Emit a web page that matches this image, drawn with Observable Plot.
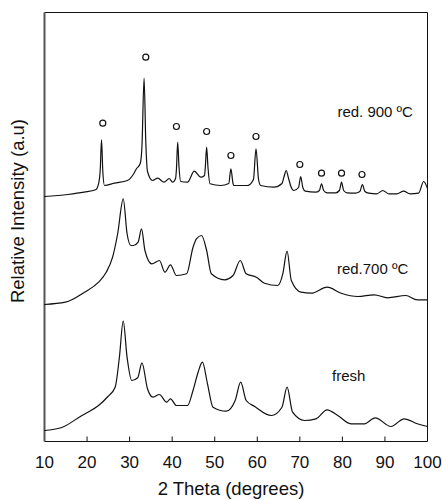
<!DOCTYPE html>
<html>
<head>
<meta charset="utf-8">
<script src="https://cdn.jsdelivr.net/npm/d3@7"></script>
<script src="https://cdn.jsdelivr.net/npm/@observablehq/plot@0.6"></script>
<style>
  html, body { margin: 0; padding: 0; background: #fff; }
  #wrap { position: relative; width: 442px; height: 500px; }
  #ylabel {
    position: absolute; left: 18px; top: 211px;
    transform: translate(-50%, -50%) rotate(-90deg);
    white-space: nowrap; font-family: 'Liberation Sans', Arial, Helvetica, sans-serif;
    font-size: 18.5px; color: #111; line-height: 1;
  }
</style>
</head>
<body>
<div id="wrap"><div id="chart"></div><div id="ylabel"></div></div>
<script>
// 2θ (degrees) vs relative intensity (a.u., traces offset vertically)
const red900 = [
  [10.0,245],[15.5,247],[19.3,249.3],[22.0,251.7],[22.7,257.7],[23.1,272],[23.4,301.7],[23.7,270],[24.1,256],
  [26.4,258.3],[29.5,261],[31.0,268],[31.6,272.7],[32.5,278],[32.9,295],[33.4,363.3],[33.8,300],[34.2,270],
  [35.4,261],[36.6,263.3],[38.1,259.3],[39.3,263],[40.1,259.3],[40.8,263],[41.0,272],[41.3,299.3],[41.6,275],
  [42.0,260],[43.6,259.3],[45.2,270.3],[46.7,264.3],[47.6,266],[47.8,275],[48.1,294.3],[48.4,275],[48.9,257.7],
  [51.4,256],[53.3,258],[53.8,272.7],[54.3,258],[54.5,256],[57.7,256],[59.1,262],[59.7,292.7],[60.3,262],
  [60.8,256],[63.9,254.3],[65.8,258],[66.3,265],[66.8,271],[67.3,264],[67.9,255],[68.6,251],[69.7,254],
  [70.2,265],[70.7,254],[71.3,250.3],[73.7,249.3],[74.6,251],[75.1,257.7],[75.6,251],[76.4,248.7],[78.4,248.7],
  [79.3,251],[79.8,259.3],[80.3,251],[81.1,248.7],[83.0,248.3],[84.1,250],[84.7,257],[85.3,250],[86.2,248.3],
  [88.1,247.7],[89.5,251],[90.9,247.7],[92.8,247.7],[94.4,250.3],[95.9,247.7],[97.9,248.3],[99.1,260],[100,253]
];
const red700 = [
  [10.0,137],[14.9,139.3],[19.4,149.3],[22.7,159.3],[24.5,169.3],[26.0,184.3],[27.2,208],[28.5,242.7],
  [29.4,208],[30.3,196],[30.9,196],[32.0,199.3],[32.8,212.7],[33.6,191],[35.2,177.7],[37.0,181],[38.3,169.3],
  [39.6,176.7],[41.0,166],[43.4,167.7],[44.9,194.3],[45.7,202.7],[46.9,206],[48.1,191],[49.2,167.7],[52.3,161.7],
  [54.3,166],[56.0,181],[57.4,167.7],[59.8,164.3],[61.7,158.3],[64.8,156],[66.0,167.7],[67.0,190.3],[68.0,161],
  [70.3,149.3],[72.7,148.3],[76.4,154.3],[79.7,148.3],[83.6,145],[87.5,146.7],[90.6,143.7],[94.9,146],
  [97.6,141.7],[100,141.7]
];
const fresh = [
  [10.0,11],[13.9,13.7],[18.8,26],[20.2,29.3],[22.7,36],[24.9,45],[26.6,54.3],[27.6,84.3],[28.5,120.3],
  [29.4,84.3],[30.5,61],[31.9,63.7],[32.9,78.7],[34.2,52.7],[35.5,44.3],[37.0,47],[38.7,39.3],[39.6,42.7],
  [41.0,36],[43.6,36],[44.9,51],[46.1,69.3],[47.1,79.3],[48.3,57.7],[49.6,34.3],[52.7,30.3],[54.8,41],
  [56.1,59.3],[57.4,41],[59.4,35],[63.3,26],[65.8,34.3],[67.0,54.3],[68.3,29.3],[71.1,21],[73.8,22.7],
  [76.4,31.7],[78.9,26],[82.0,17.7],[85.2,17.7],[87.7,23.7],[91.4,15],[94.5,22.7],[97.6,17.7],[100,15]
];
// open-circle phase markers above the red. 900 ºC reflections
const markerTheta = [23.7, 33.8, 41.0, 48.1, 53.8, 59.7, 70.0, 75.1, 79.8, 84.6];
const markerInt   = [318.3, 384.3, 315, 310, 286, 305, 277, 268.3, 268.3, 267];
// trace labels
const labelText  = ["red. 900 ºC", "red.700 ºC", "fresh"];
const labelTheta = [87.7, 87.1, 81.5];
const labelInt   = [329.3, 172.7, 65];
const xTicks = [10, 20, 30, 40, 50, 60, 70, 80, 90, 100];
const innerTicks = [20, 30, 40, 50, 60, 70, 80, 90];
const xDomain = [10, 100];
const yDomain = [0, 429];
const xTitle = "2 Theta (degrees)";
const yTitle = "Relative Intensity (a.u)";

const toRows = (arr, name) => arr.map(([t, v]) => ({theta: t, intensity: v, series: name}));
const rows = [...toRows(fresh, "fresh"), ...toRows(red700, "red700"), ...toRows(red900, "red900")];
const markers = markerTheta.map((t, i) => ({theta: t, intensity: markerInt[i]}));
const labels = labelText.map((s, i) => ({text: s, theta: labelTheta[i], intensity: labelInt[i]}));
const tickLen = 5;
const [x0, x1] = xDomain, [y0, y1] = yDomain;
const frameSides = [
  {x1: x0, y1: y0, x2: x1, y2: y0},
  {x1: x1, y1: y0, x2: x1, y2: y1},
  {x1: x0, y1: y1, x2: x1, y2: y1}
];
const tickSegs = innerTicks.map(t => ({x1: t, y1: y0, x2: t, y2: y0 + tickLen}));

const font = "'Liberation Sans', Arial, Helvetica, sans-serif";
const chart = Plot.plot({
  width: 442,
  height: 500,
  marginLeft: 44,
  marginRight: 15,
  marginTop: 12,
  marginBottom: 59,
  style: {fontFamily: font, background: "#fff", color: "#000"},
  x: {domain: xDomain},
  y: {domain: yDomain},
  marks: [
    Plot.axisX(xTicks, {tickSize: 0, tickPadding: 14, fontSize: 17, label: null, fill: "#111"}),
    Plot.axisY({ticks: [], label: null}),
    Plot.link(tickSegs, {x1: "x1", y1: "y1", x2: "x2", y2: "y2", stroke: "#111", strokeWidth: 1}),
    Plot.link(frameSides, {x1: "x1", y1: "y1", x2: "x2", y2: "y2", stroke: "#111", strokeWidth: 1}),
    Plot.link([{x1: x0, y1: y0, x2: x0, y2: y1}], {x1: "x1", y1: "y1", x2: "x2", y2: "y2", stroke: "#555", strokeWidth: 2}),
    Plot.line(rows, {x: "theta", y: "intensity", z: "series", stroke: "#111", strokeWidth: 1.2, curve: "monotone-x"}),
    Plot.dot(markers, {x: "theta", y: "intensity", r: 3, stroke: "#111", strokeWidth: 1.2, fill: "white"}),
    Plot.text(labels, {x: "theta", y: "intensity", text: "text", fontSize: 15, fill: "#111"}),
    Plot.text([xTitle], {frameAnchor: "bottom", dy: 48, dx: -5, fontSize: 18.5, fill: "#111", lineAnchor: "middle", textAnchor: "middle"})
  ]
});
document.getElementById("chart").appendChild(chart);
document.getElementById("ylabel").textContent = yTitle;
</script>
</body>
</html>
